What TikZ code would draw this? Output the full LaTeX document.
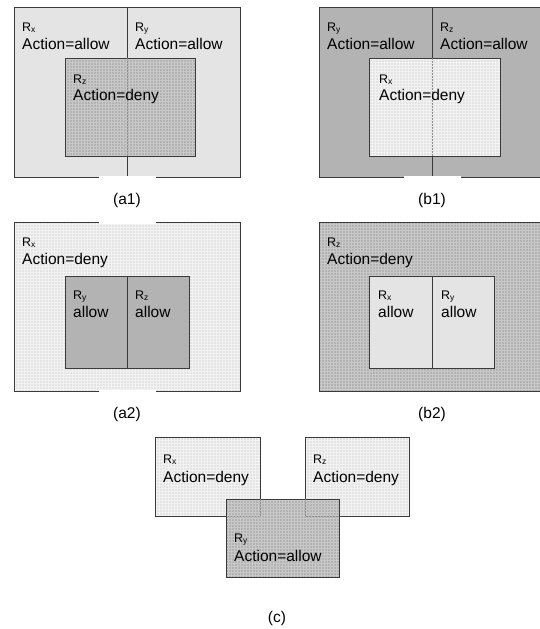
\documentclass[tikz,border=0pt]{standalone}
\usepackage{fontspec}
\setmainfont{Liberation Sans}
\usetikzlibrary{patterns,calc}
\pgfdeclarepatternformonly{mygrid}{\pgfqpoint{-1pt}{-1pt}}{\pgfqpoint{4pt}{4pt}}{\pgfqpoint{3pt}{3pt}}{
 \pgfsetlinewidth{0.6pt}
 \pgfpathmoveto{\pgfqpoint{0pt}{0pt}}\pgfpathlineto{\pgfqpoint{0pt}{3.1pt}}
 \pgfpathmoveto{\pgfqpoint{0pt}{0pt}}\pgfpathlineto{\pgfqpoint{3.1pt}{0pt}}
 \pgfusepath{stroke}}
\definecolor{cL}{HTML}{E4E4E4}
\definecolor{cD}{HTML}{B3B3B3}
\definecolor{cLg}{HTML}{F2F2F2}
\definecolor{cDg}{HTML}{C8C8C8}
\definecolor{cB}{HTML}{3A3A3A}
\definecolor{cDash}{HTML}{8C8C8C}
\newcommand\Rs[1]{{\fontsize{12.5}{13}\selectfont R}{\fontsize{8.5}{9}\selectfont\raisebox{-1.5pt}{#1}}}
\tikzset{
 box/.style={draw=cB, line width=0.9pt, inner sep=0pt, outer sep=0pt, anchor=north west},
 lt/.style={box, fill=cL},
 dk/.style={box, fill=cD},
 ltg/.style={box, preaction={fill=cL}, pattern=mygrid, pattern color=cLg},
 dkg/.style={box, preaction={fill=cD}, pattern=mygrid, pattern color=cDg},
 lab/.style={anchor=base west, inner sep=0pt, font=\fontsize{15.5}{18}\selectfont},
 captext/.style={inner sep=0pt, font=\fontsize{15.5}{18}\selectfont},
 ghost/.style={draw=cDash, line width=0.7pt, dash pattern=on 1.5pt off 1.5pt}
}
\begin{document}
\begin{tikzpicture}[x=1pt,y=-1pt]
\clip (0,0) rectangle (540,629);
\fill[white] (0,0) rectangle (540,629);
% ---------- (a1)
\node[lt, minimum width=113, minimum height=170] (a1x) at (14,7) {};
\node[lt, minimum width=113, minimum height=170] (a1y) at (127,7) {};
\node[dkg, minimum width=130, minimum height=98] (a1z) at (65,58) {};
\draw[ghost] (a1x.north east |- a1z.north) -- (a1x.north east |- a1z.south);
\node[lab] at ($(a1x.north west)+(8,24)$) {\Rs{x}};
\node[lab] at ($(a1x.north west)+(8,42)$) {Action=allow};
\node[lab] at ($(a1y.north west)+(8,24)$) {\Rs{y}};
\node[lab] at ($(a1y.north west)+(8,42)$) {Action=allow};
\node[lab] at ($(a1z.north west)+(8,25)$) {\Rs{z}};
\node[lab] at ($(a1z.north west)+(8,42)$) {Action=deny};
% ---------- (b1)
\node[dk, minimum width=113, minimum height=170] (b1y) at (319,7) {};
\node[dk, minimum width=113, minimum height=170] (b1z) at (432,7) {};
\node[ltg, minimum width=131, minimum height=98] (b1x) at (369,58) {};
\draw[ghost] (b1y.north east |- b1x.north) -- (b1y.north east |- b1x.south);
\node[lab] at ($(b1y.north west)+(8,24)$) {\Rs{y}};
\node[lab] at ($(b1y.north west)+(8,42)$) {Action=allow};
\node[lab] at ($(b1z.north west)+(8,24)$) {\Rs{z}};
\node[lab] at ($(b1z.north west)+(8,42)$) {Action=allow};
\node[lab] at ($(b1x.north west)+(10,25)$) {\Rs{x}};
\node[lab] at ($(b1x.north west)+(10,42)$) {Action=deny};
% ---------- (a2)
\node[ltg, minimum width=226, minimum height=169] (a2x) at (14,222) {};
\node[dk, minimum width=62, minimum height=92] (a2y) at (65,276) {};
\node[dk, minimum width=62, minimum height=92] (a2z) at (127,276) {};
\node[lab] at ($(a2x.north west)+(8,24)$) {\Rs{x}};
\node[lab] at ($(a2x.north west)+(8,42)$) {Action=deny};
\node[lab] at ($(a2y.north west)+(8,23)$) {\Rs{y}};
\node[lab] at ($(a2y.north west)+(8,41)$) {allow};
\node[lab] at ($(a2z.north west)+(8,23)$) {\Rs{z}};
\node[lab] at ($(a2z.north west)+(8,41)$) {allow};
% ---------- (b2)
\node[dkg, minimum width=240, minimum height=169] (b2z) at (319,222) {};
\node[lt, minimum width=63, minimum height=92] (b2x) at (369,276) {};
\node[lt, minimum width=62, minimum height=92] (b2y) at (432,276) {};
\node[lab] at ($(b2z.north west)+(8,24)$) {\Rs{z}};
\node[lab] at ($(b2z.north west)+(8,42)$) {Action=deny};
\node[lab] at ($(b2x.north west)+(9,23)$) {\Rs{x}};
\node[lab] at ($(b2x.north west)+(9,41)$) {allow};
\node[lab] at ($(b2y.north west)+(9,23)$) {\Rs{y}};
\node[lab] at ($(b2y.north west)+(9,41)$) {allow};
% ---------- (c)
\node[ltg, minimum width=105, minimum height=79] (cx) at (155,437) {};
\node[ltg, minimum width=104, minimum height=79] (cz) at (305,437) {};
\node[dkg, minimum width=113, minimum height=78] (cy) at (226,499) {};
\draw[ghost] (cx.north east |- cy.north) -- (cx.south east) -- (cy.north west |- cx.south);
\draw[ghost] (cz.north west |- cy.north) -- (cz.south west) -- (cy.north east |- cz.south);
\node[lab] at ($(cx.north west)+(8,26)$) {\Rs{x}};
\node[lab] at ($(cx.north west)+(8,45)$) {Action=deny};
\node[lab] at ($(cz.north west)+(8,26)$) {\Rs{z}};
\node[lab] at ($(cz.north west)+(8,45)$) {Action=deny};
\node[lab] at ($(cy.north west)+(8,43)$) {\Rs{y}};
\node[lab] at ($(cy.north west)+(8,62)$) {Action=allow};
% ---------- caption gaps
\fill[white] (99,176.3) rectangle (156,223.5);
\fill[white] (99,390) rectangle (156,396);
\fill[white] (404,176.3) rectangle (461,221.5);
% ---------- captions
\node[captext] (ca1) at (127,200) {(a1)};
\node[captext] (cb1) at (432,200) {(b1)};
\node[captext] (ca2) at (127,414) {(a2)};
\node[captext] (cb2) at (432,414) {(b2)};
\node[captext] (cc) at (277,618) {(c)};
\end{tikzpicture}
\end{document}
